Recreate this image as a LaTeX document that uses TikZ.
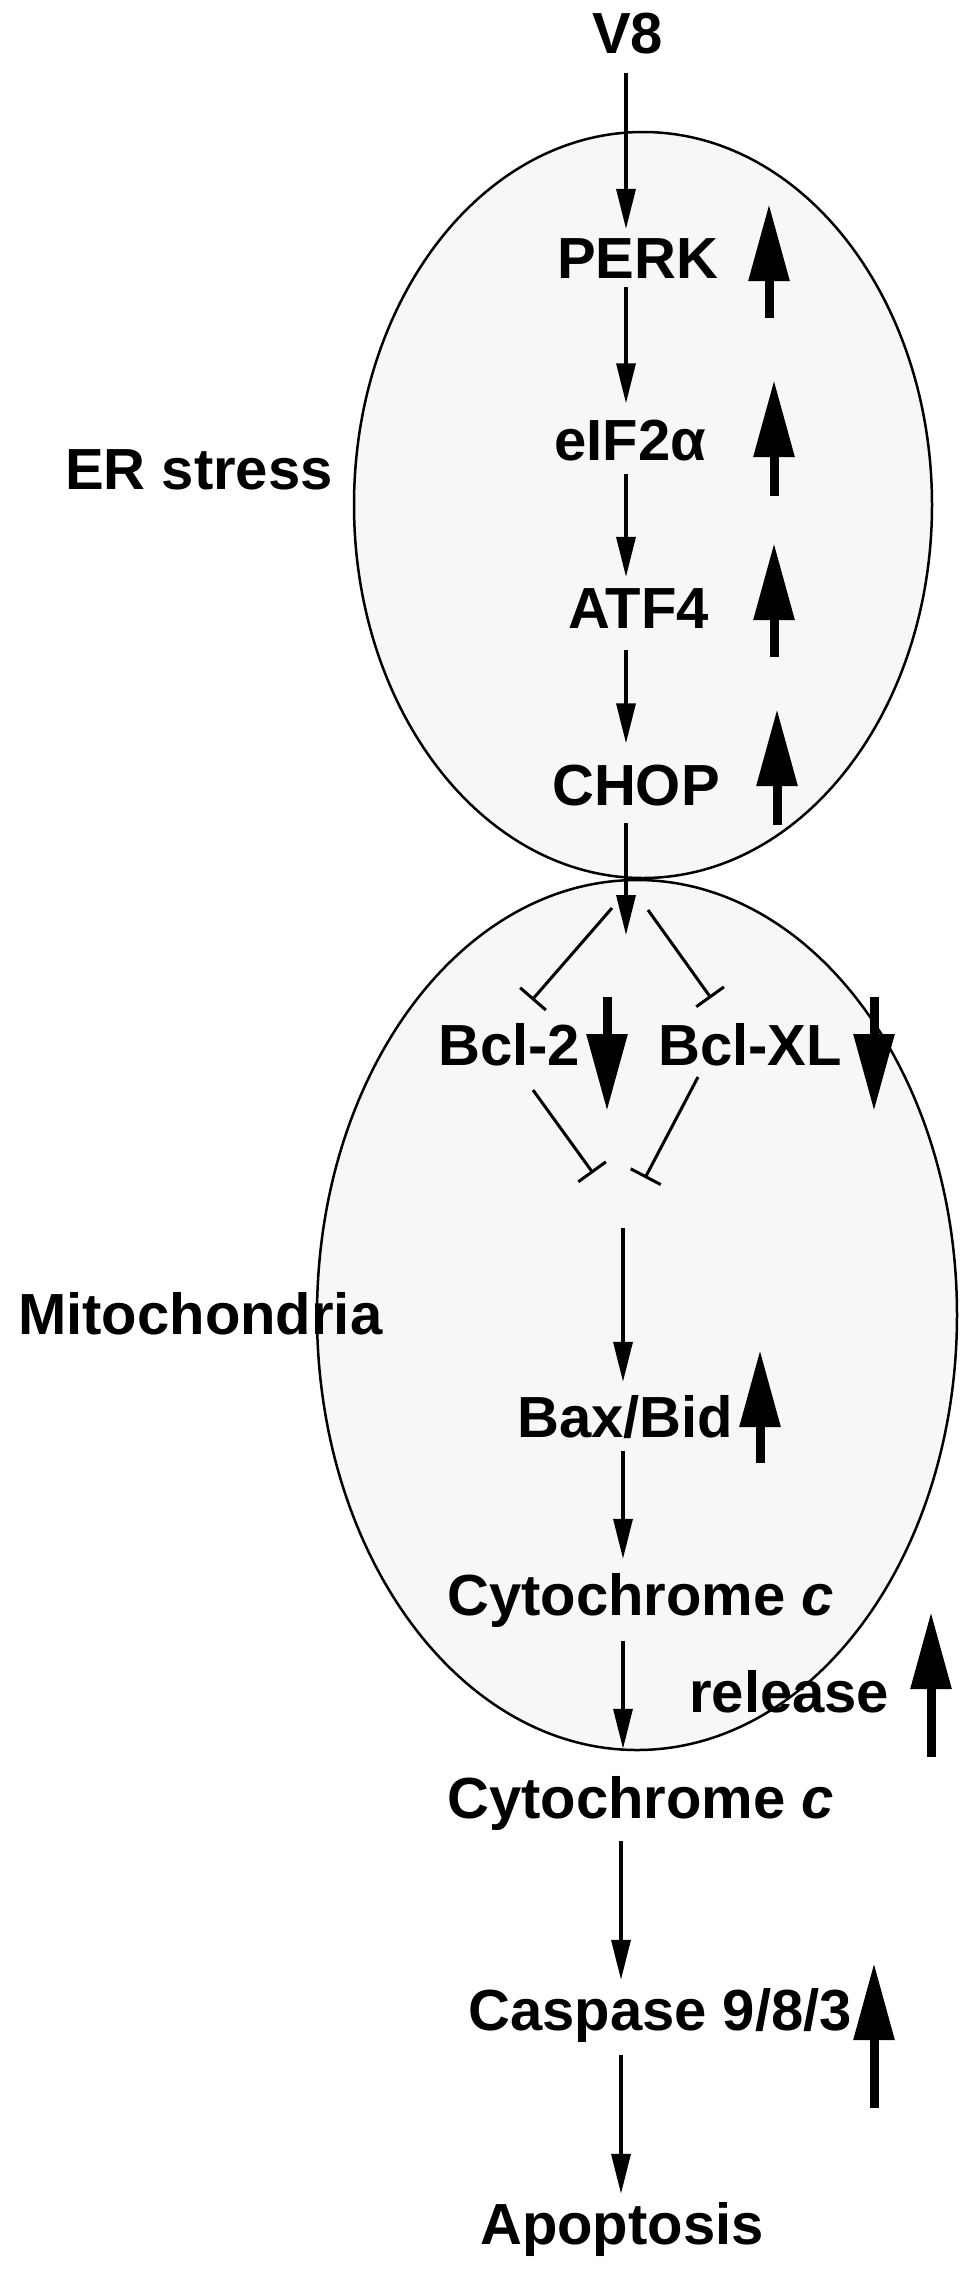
\documentclass[tikz,border=0pt]{standalone}
\usepackage{fontspec}
\setmainfont{Liberation Sans}
\usetikzlibrary{arrows.meta}
\definecolor{cellfill}{RGB}{247,247,247}
\begin{document}
\begin{tikzpicture}[x=1pt,y=-1pt,
  lbl/.style={font=\fontsize{58}{70}\selectfont\bfseries, inner sep=0pt, anchor=base west},
  arr/.style={line width=3.4pt, -{Triangle[length=40pt,width=19pt]}},
  inh/.style={line width=3pt, -{Bar[width=34pt,line width=3pt]}},
  bigarr/.style={line width=9pt, -{Triangle[length=77pt,width=39pt]}},
  cell/.style={draw=black, line width=2.5pt, fill=cellfill}]
\useasboundingbox (0,0) rectangle (971,2270);
% compartments
\draw[cell] (643,505) ellipse [x radius=289, y radius=373];
\draw[cell] (637,1315) ellipse [x radius=320, y radius=435];
% axis helpers
\coordinate (ax) at (626,0);
\coordinate (bx) at (623,0);
\coordinate (cx) at (621,0);
% labels
\node[lbl] (v8) at (592,53) {V8};
\node[lbl] (perk) at (557,278) {PERK};
\node[lbl] (eif) at (554,460) {eIF2α};
\node[lbl] (atf) at (568,628) {ATF4};
\node[lbl] (chop) at (552,805) {CHOP};
\node[lbl] (er) at (65,489) {ER stress};
\node[lbl] (bcl2) at (438,1065) {Bcl-2};
\node[lbl] (bclxl) at (658,1065) {Bcl-XL};
\node[lbl] (mito) at (18,1334) {Mitochondria};
\node[lbl] (bax) at (517,1437) {Bax/Bid};
\node[lbl] (cyt) at (447,1615) {Cytochrome \textit{c}};
\node[lbl] (rel) at (689,1712) {release};
\node[lbl] (cyt2) at (447,1818) {Cytochrome \textit{c}};
\node[lbl] (casp) at (468,2030) {Caspase 9/8/3};
\node[lbl] (apop) at (480,2244) {Apoptosis};
% main chain
\draw[arr] ([yshift=-19pt]v8.south -| ax) -- ([yshift=9pt]perk.north -| ax);
\draw[arr] ([yshift=-9pt]perk.south -| ax) -- ([yshift=16pt]eif.north -| ax);
\draw[arr] ([yshift=-13pt]eif.south -| ax) -- ([yshift=11pt]atf.north -| ax);
\draw[arr] ([yshift=-22pt]atf.south -| ax) -- ([yshift=21pt]chop.north -| ax);
\coordinate (split) at (626,935);
\draw[arr] ([yshift=-17pt]chop.south -| ax) -- (split);
% inhibition of Bcl-2 / Bcl-XL
\coordinate (s1) at (612,908);
\coordinate (t1) at (532,1000);
\coordinate (s2) at (648,910);
\coordinate (t2) at (711,998);
\draw[inh] (s1) -- (t1);
\draw[inh] (s2) -- (t2);
\coordinate (s3) at (533,1090);
\coordinate (t3) at (593,1173);
\coordinate (s4) at (698,1077);
\coordinate (t4) at (645,1178);
\draw[inh] (s3) -- (t3);
\draw[inh] (s4) -- (t4);
\coordinate (baxin) at (623,1228);
\draw[arr] (baxin) -- ([yshift=13pt]bax.north -| bx);
\draw[arr] ([yshift=-13pt]bax.south -| bx) -- ([yshift=14pt]cyt.north -| bx);
\draw[arr] ([yshift=-14pt]cyt.south -| bx) -- ([yshift=27pt]cyt2.north -| bx);
\draw[arr] ([yshift=-11pt]cyt2.south -| cx) -- ([yshift=8pt]casp.north -| cx);
\draw[arr] ([yshift=-13pt]casp.south -| cx) -- ([yshift=8pt]apop.north -| cx);
% up / down regulation arrows
\draw[bigarr] (769,318) -- (769,204);
\draw[bigarr] (774,496) -- (774,380);
\draw[bigarr] (774,657) -- (774,543);
\draw[bigarr] (777,825) -- (777,709);
\draw[bigarr] (607,997) -- (607,1111);
\draw[bigarr] (874,997) -- (874,1111);
\draw[bigarr] (760,1463) -- (760,1350);
\draw[bigarr] (931,1757) -- (931,1612);
\draw[bigarr] (874,2108) -- (874,1963);
\end{tikzpicture}
\end{document}
